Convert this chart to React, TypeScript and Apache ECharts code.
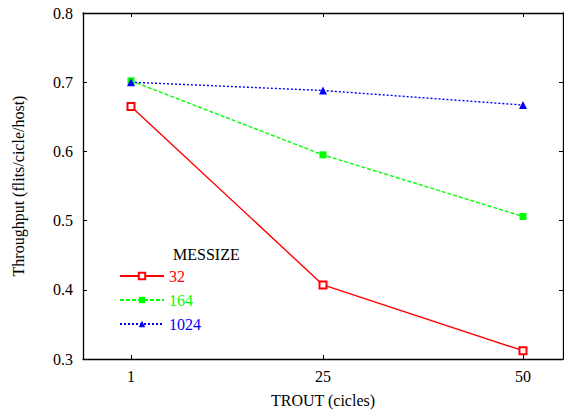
import React, { useEffect, useRef } from "react";
import * as echarts from "echarts";

const trout = [1, 25, 50];
const xTicks = [1, 25, 50];
const s32 = [0.665, 0.407, 0.312];
const s164 = [0.702, 0.595, 0.506];
const s1024 = [0.7, 0.688, 0.667];
const seriesNames = ["32", "164", "1024"];
const seriesColors = ["#ff0000", "#00ff00", "#0000ff"];

const FONT = "serif";

export default function App() {
  const ref = useRef<HTMLDivElement>(null);
  useEffect(() => {
    if (!ref.current) return;
    const chart = echarts.init(ref.current, undefined, { renderer: "svg" });
    const pair = (ys: number[]) => trout.map((x, i) => [x, ys[i]]);
    const axisLineStyle = { color: "#000", width: 1.3 };
    chart.setOption({
      animation: false,
      backgroundColor: "#fff",
      textStyle: { fontFamily: FONT },
      grid: { left: 83, top: 13, width: 480, height: 346, containLabel: false },
      xAxis: [
        {
          type: "value",
          min: -5,
          max: 55,
          name: "TROUT (cicles)",
          nameLocation: "middle",
          nameGap: 33,
          nameTextStyle: { fontFamily: FONT, fontSize: 16, color: "#000" },
          axisLine: { show: true, onZero: false, lineStyle: axisLineStyle },
          axisTick: { show: true, inside: true, length: 4, customValues: xTicks, lineStyle: { color: "#000" } },
          axisLabel: { customValues: xTicks, fontFamily: FONT, fontSize: 16, color: "#000", margin: 9 },
          splitLine: { show: false },
        },
        {
          type: "value",
          position: "top",
          min: -5,
          max: 55,
          axisLine: { show: true, onZero: false, lineStyle: axisLineStyle },
          axisTick: { show: true, inside: true, length: 4, customValues: xTicks, lineStyle: { color: "#000" } },
          axisLabel: { show: false },
          splitLine: { show: false },
        },
      ],
      yAxis: [
        {
          type: "value",
          min: 0.3,
          max: 0.8,
          interval: 0.1,
          name: "Throughput (flits/cicle/host)",
          nameLocation: "middle",
          nameGap: 57,
          nameTextStyle: { fontFamily: FONT, fontSize: 16, color: "#000" },
          axisLine: { show: true, onZero: false, lineStyle: axisLineStyle },
          axisTick: { show: true, inside: true, length: 4, lineStyle: { color: "#000" } },
          axisLabel: {
            fontFamily: FONT,
            fontSize: 16,
            color: "#000",
            margin: 10,
            formatter: (v: number) => v.toFixed(1),
          },
          splitLine: { show: false },
        },
        {
          type: "value",
          position: "right",
          min: 0.3,
          max: 0.8,
          interval: 0.1,
          axisLine: { show: true, onZero: false, lineStyle: axisLineStyle },
          axisTick: { show: true, inside: true, length: 4, lineStyle: { color: "#000" } },
          axisLabel: { show: false },
          splitLine: { show: false },
        },
      ],
      legend: {
        orient: "vertical",
        left: 114,
        top: 263,
        padding: 5,
        itemWidth: 44,
        itemHeight: 8,
        itemGap: 8,
        textStyle: { fontFamily: FONT, fontSize: 16 },
        data: seriesNames.map((n, i) => ({ name: n, textStyle: { color: seriesColors[i] } })),
      },
      graphic: [
        {
          type: "text",
          left: 173,
          top: 246,
          style: { text: "MESSIZE", fontFamily: FONT, fontSize: 16, fill: "#000" },
        },
      ],
      series: [
        {
          name: seriesNames[0],
          type: "line",
          data: pair(s32),
          symbol: "emptyRect",
          symbolSize: 7,
          color: seriesColors[0],
          lineStyle: { width: 1.4, type: "solid" },
          itemStyle: { borderWidth: 1.3 },
        },
        {
          name: seriesNames[1],
          type: "line",
          data: pair(s164),
          symbol: "rect",
          symbolSize: 7,
          color: seriesColors[1],
          lineStyle: { width: 1.4, type: [4, 2] },
        },
        {
          name: seriesNames[2],
          type: "line",
          data: pair(s1024),
          symbol: "triangle",
          symbolSize: 8,
          color: seriesColors[2],
          lineStyle: { width: 1.4, type: [2, 2] },
        },
      ],
    });
    return () => chart.dispose();
  }, []);
  return <div ref={ref} style={{ width: 564, height: 415, position: "absolute", left: 0, top: 0 }} />;
}
